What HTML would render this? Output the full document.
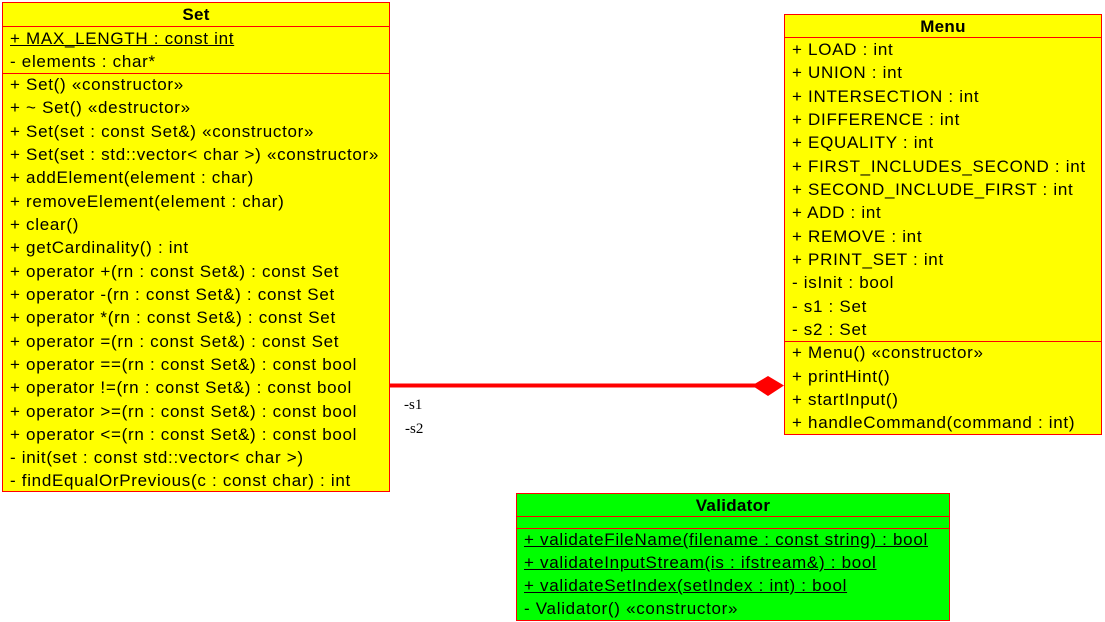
<!DOCTYPE html>
<html><head><style>
body{margin:0;width:1105px;height:622px;background:#fff;position:relative;overflow:hidden;font-family:"Liberation Sans",Arial,sans-serif;font-size:17px;letter-spacing:0.7px;color:#000}
.box{position:absolute;border:1px solid #f00;box-sizing:border-box}
.r{position:absolute;left:7px;white-space:nowrap;line-height:20px}
.t{position:absolute;left:0;right:0;text-align:center;font-weight:bold;line-height:20px;letter-spacing:0.3px}
.hl{position:absolute;left:0;right:0;height:1px;background:#f00}
u{text-decoration:underline}
</style></head><body>
<div class="box" style="left:2px;top:2px;width:388px;height:490px;background:#ff0">
<div class="t" style="top:2px">Set</div>
<div class="hl" style="top:23px"></div>
<div class="r" style="top:26px"><u>+ MAX_LENGTH : const int</u></div>
<div class="r" style="top:49px">- elements : char*</div>
<div class="hl" style="top:70px"></div>
<div class="r" style="top:72px">+ Set() «constructor»</div>
<div class="r" style="top:95px">+ ~ Set() «destructor»</div>
<div class="r" style="top:119px">+ Set(set : const Set&amp;) «constructor»</div>
<div class="r" style="top:142px">+ Set(set : std::vector&lt; char &gt;) «constructor»</div>
<div class="r" style="top:165px">+ addElement(element : char)</div>
<div class="r" style="top:189px">+ removeElement(element : char)</div>
<div class="r" style="top:212px">+ clear()</div>
<div class="r" style="top:235px">+ getCardinality() : int</div>
<div class="r" style="top:259px">+ operator +(rn : const Set&amp;) : const Set</div>
<div class="r" style="top:282px">+ operator -(rn : const Set&amp;) : const Set</div>
<div class="r" style="top:305px">+ operator *(rn : const Set&amp;) : const Set</div>
<div class="r" style="top:329px">+ operator =(rn : const Set&amp;) : const Set</div>
<div class="r" style="top:352px">+ operator ==(rn : const Set&amp;) : const bool</div>
<div class="r" style="top:375px">+ operator !=(rn : const Set&amp;) : const bool</div>
<div class="r" style="top:399px">+ operator &gt;=(rn : const Set&amp;) : const bool</div>
<div class="r" style="top:422px">+ operator &lt;=(rn : const Set&amp;) : const bool</div>
<div class="r" style="top:445px">- init(set : const std::vector&lt; char &gt;)</div>
<div class="r" style="top:468px">- findEqualOrPrevious(c : const char) : int</div>
</div>
<div class="box" style="left:784px;top:14px;width:318px;height:421px;background:#ff0">
<div class="t" style="top:2px">Menu</div>
<div class="hl" style="top:22px"></div>
<div class="r" style="top:25px">+ LOAD : int</div>
<div class="r" style="top:48px">+ UNION : int</div>
<div class="r" style="top:72px">+ INTERSECTION : int</div>
<div class="r" style="top:95px">+ DIFFERENCE : int</div>
<div class="r" style="top:118px">+ EQUALITY : int</div>
<div class="r" style="top:142px">+ FIRST_INCLUDES_SECOND : int</div>
<div class="r" style="top:165px">+ SECOND_INCLUDE_FIRST : int</div>
<div class="r" style="top:188px">+ ADD : int</div>
<div class="r" style="top:212px">+ REMOVE : int</div>
<div class="r" style="top:235px">+ PRINT_SET : int</div>
<div class="r" style="top:258px">- isInit : bool</div>
<div class="r" style="top:282px">- s1 : Set</div>
<div class="r" style="top:305px">- s2 : Set</div>
<div class="hl" style="top:326px"></div>
<div class="r" style="top:328px">+ Menu() «constructor»</div>
<div class="r" style="top:352px">+ printHint()</div>
<div class="r" style="top:375px">+ startInput()</div>
<div class="r" style="top:398px">+ handleCommand(command : int)</div>
</div>
<div class="box" style="left:516px;top:493px;width:434px;height:128px;background:#0f0">
<div class="t" style="top:2px">Validator</div>
<div class="hl" style="top:22px"></div>
<div class="hl" style="top:34px"></div>
<div class="r" style="top:36px"><u>+ validateFileName(filename : const string) : bool</u></div>
<div class="r" style="top:59px"><u>+ validateInputStream(is : ifstream&amp;) : bool</u></div>
<div class="r" style="top:82px"><u>+ validateSetIndex(setIndex : int) : bool</u></div>
<div class="r" style="top:105px">- Validator() «constructor»</div>
</div>
<svg style="position:absolute;left:0;top:0" width="1105" height="622">
<line x1="390" y1="385.5" x2="756" y2="385.5" stroke="#f00" stroke-width="4"/>
<polygon points="752,385.5 768,376 784,385.5 768,396" fill="#f00"/>
<text x="404" y="409" font-family="Liberation Serif,serif" font-size="15" letter-spacing="0">-s1</text>
<text x="405" y="433" font-family="Liberation Serif,serif" font-size="15" letter-spacing="0">-s2</text>
</svg>
</body></html>
